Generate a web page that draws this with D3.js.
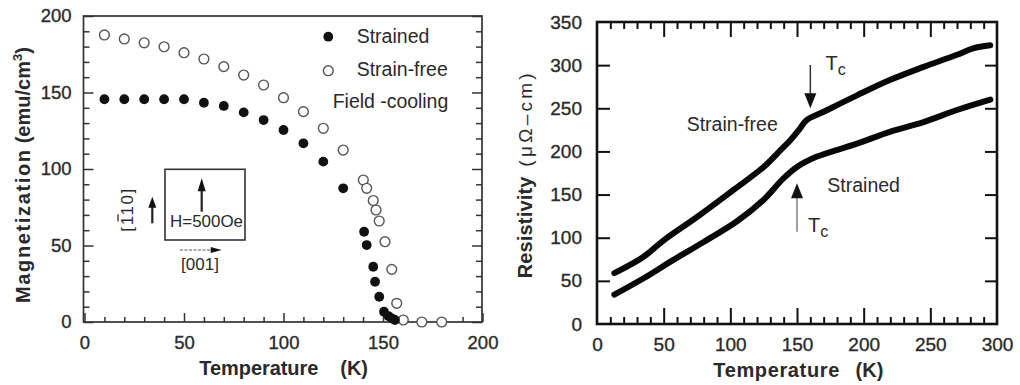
<!DOCTYPE html>
<html>
<head>
<meta charset="utf-8">
<script src="https://cdn.jsdelivr.net/npm/d3@7"></script>
<style>
  html, body { margin: 0; padding: 0; background: #fff; }
  svg { display: block; }
  text { font-family: "Liberation Sans", Arial, Helvetica, sans-serif; fill: #2a2a2a; }
  .tick text { font-family: "Liberation Sans", Arial, Helvetica, sans-serif; fill: #2a2a2a; stroke: #2a2a2a; stroke-width: 0.35px; }
</style>
</head>
<body>
<svg id="fig" width="1020" height="385"></svg>
<script>
// ---- Magnetization vs temperature (field-cooled, H = 500 Oe) ----
const strainedT = [10, 20, 30, 40, 50, 60, 70, 80, 90, 100, 110, 120, 130, 140.5, 141.8, 145.1, 146, 148.1, 150.5, 152.7, 154.4, 156];
const strainedM = [145.6, 145.6, 145.6, 145.6, 145.6, 143.3, 141.2, 137, 132, 125.5, 116.8, 104.8, 87.4, 59, 50.3, 36.1, 26.3, 16.5, 6.7, 3.9, 2.4, 1.3];
const freeT = [10, 20, 30, 40, 50, 60, 70, 80, 90, 100, 110, 120, 130, 140.1, 141.8, 145.1, 146.5, 148.1, 151, 154.4, 156.9, 160.2, 169.5, 179.5];
const freeM = [187.6, 185, 182.5, 179.9, 176, 171.9, 166.9, 161.4, 154.9, 146.6, 137.5, 126.6, 112.4, 92.8, 87.4, 79.4, 73.2, 66, 52.5, 34.4, 12.2, 1.3, 0, 0];
const magXTicks = [0, 50, 100, 150, 200];
const magYTicks = [0, 50, 100, 150, 200];

// ---- Resistivity vs temperature ----
const rhoFreeT = [13, 35, 50, 75, 102, 125, 138, 145, 152, 157, 170, 195, 220, 245, 270, 282, 295];
const rhoFreeR = [59, 78, 97, 124, 155, 182, 202, 213, 226, 236, 246, 265, 283, 298, 312, 319.5, 323];
const rhoStrT = [13, 35, 57, 80, 105, 125, 140, 150, 165, 195, 220, 245, 270, 295];
const rhoStrR = [34, 53, 74, 95, 119, 144, 169, 182, 194, 209, 223, 234, 248, 260];
const rhoXTicks = [0, 50, 100, 150, 200, 250, 300];
const rhoYTicks = [0, 50, 100, 150, 200, 250, 300, 350];
const tcFree = 160, tcStrained = 150;

const svg = d3.select("#fig");

// arrowhead helper: filled triangle with tip at (x, y), pointing in direction dir
function head(g, x, y, dir, len, wid, color) {
  let pts;
  if (dir === "up") pts = [[x, y], [x - wid / 2, y + len], [x + wid / 2, y + len]];
  else if (dir === "down") pts = [[x, y], [x - wid / 2, y - len], [x + wid / 2, y - len]];
  else pts = [[x, y], [x - len, y - wid / 2], [x - len, y + wid / 2]];
  g.append("path").attr("d", "M" + pts.map(p => p.join(",")).join("L") + "Z").attr("fill", color);
}

// ================= Left panel =================
{
  const x = d3.scaleLinear().domain([0, 200]).range([84.5, 482.5]);
  const y = d3.scaleLinear().domain([0, 200]).range([322, 16]);
  const g = svg.append("g");

  // minor ticks (every 10) on bottom, left and right; none on top
  const minorX = d3.range(10, 200, 10).filter(v => v % 50 !== 0);
  const minorY = d3.range(10, 200, 10).filter(v => v % 50 !== 0);
  g.append("g").attr("transform", `translate(0,${y(0)})`)
    .call(d3.axisBottom(x).tickValues(minorX).tickSize(-5).tickFormat(""));
  g.append("g").attr("transform", `translate(0,${y(0)})`)
    .call(d3.axisBottom(x).tickValues(magXTicks).tickSize(-9).tickPadding(14))
    .call(a => a.selectAll("text").style("font-size", "18.5px"));
  g.append("g").attr("transform", `translate(${x.range()[0] - 1},0)`)
    .call(d3.axisLeft(y).tickValues(minorY).tickSize(-6).tickFormat(""));
  g.append("g").attr("transform", `translate(${x.range()[0] - 1},0)`)
    .call(d3.axisLeft(y).tickValues(magYTicks).tickSize(-10).tickPadding(12))
    .call(a => a.selectAll("text").style("font-size", "18.5px"));
  g.append("g").attr("transform", `translate(${x.range()[1] - 0.5},0)`)
    .call(d3.axisRight(y).tickValues(minorY).tickSize(-6).tickFormat(""));
  g.append("g").attr("transform", `translate(${x.range()[1] - 0.5},0)`)
    .call(d3.axisRight(y).tickValues(magYTicks).tickSize(-10).tickFormat(""));
  g.selectAll(".domain").remove();
  g.selectAll(".tick line").attr("stroke", "#333").attr("stroke-width", 1.5);

  // frame
  g.append("rect").attr("x", x.range()[0] - 1).attr("y", y(200))
    .attr("width", x.range()[1] - x.range()[0] + 0.5).attr("height", y(0) - y(200))
    .attr("fill", "none").attr("stroke", "#333").attr("stroke-width", 1.7);

  // strain-free (open) points
  g.append("g").selectAll("circle").data(freeT.map((t, i) => [t, freeM[i]])).join("circle")
    .attr("cx", d => x(d[0])).attr("cy", d => y(d[1])).attr("r", 4.9)
    .attr("fill", "#fff").attr("stroke", "#555").attr("stroke-width", 1.4);
  // strained (filled) points
  g.append("g").selectAll("circle").data(strainedT.map((t, i) => [t, strainedM[i]])).join("circle")
    .attr("cx", d => x(d[0])).attr("cy", d => y(d[1])).attr("r", 4.9)
    .attr("fill", "#111");

  // legend
  g.append("circle").attr("cx", 328.3).attr("cy", 36.7).attr("r", 4.9).attr("fill", "#111");
  g.append("circle").attr("cx", 328.3).attr("cy", 70.7).attr("r", 4.9)
    .attr("fill", "#fff").attr("stroke", "#555").attr("stroke-width", 1.4);
  g.append("text").attr("x", 356.7).attr("y", 42.7).style("font-size", "19.5px").text("Strained");
  g.append("text").attr("x", 356.7).attr("y", 76.3).style("font-size", "19.5px").text("Strain-free");
  g.append("text").attr("x", 332.7).attr("y", 108.3).style("font-size", "19.5px")
    .attr("textLength", 115.6).text("Field -cooling");

  // inset: field direction relative to crystal axes
  const ins = g.append("g");
  ins.append("rect").attr("x", 165).attr("y", 169.3).attr("width", 80).attr("height", 70.7)
    .attr("fill", "none").attr("stroke", "#333").attr("stroke-width", 1.6);
  ins.append("line").attr("x1", 201.7).attr("y1", 211.7).attr("x2", 201.7).attr("y2", 188)
    .attr("stroke", "#222").attr("stroke-width", 2.2);
  head(ins, 201.7, 178.3, "up", 13, 8, "#111");
  ins.append("text").attr("x", 170).attr("y", 226.7).style("font-size", "16px")
    .attr("textLength", 73).attr("lengthAdjust", "spacingAndGlyphs").text("H=500Oe");
  ins.append("line").attr("x1", 152.3).attr("y1", 223.3).attr("x2", 152.3).attr("y2", 204)
    .attr("stroke", "#222").attr("stroke-width", 2.2);
  head(ins, 152.3, 196.7, "up", 11, 8, "#111");
  const rot = ins.append("g").attr("transform", "translate(133,231.7) rotate(-90)");
  rot.append("text").attr("x", 0).attr("y", 0).style("font-size", "17px")
    .attr("textLength", 43).text("[110]");
  rot.append("line").attr("x1", 10.5).attr("x2", 17.5).attr("y1", -15).attr("y2", -15)
    .attr("stroke", "#2a2a2a").attr("stroke-width", 1.3);
  ins.append("line").attr("x1", 180).attr("y1", 250).attr("x2", 212).attr("y2", 250)
    .attr("stroke", "#555").attr("stroke-width", 1.2).attr("stroke-dasharray", "3,1.5");
  head(ins, 221.7, 250, "right", 11, 6, "#111");
  ins.append("text").attr("x", 200).attr("y", 270).attr("text-anchor", "middle")
    .style("font-size", "17px").text("[001]");

  // axis titles
  g.append("text").attr("transform", "translate(30,303) rotate(-90)")
    .style("font-size", "20px").style("font-weight", "bold")
    .attr("textLength", 153).text("Magnetization");
  const yt = g.append("text").attr("transform", "translate(30,143.3) rotate(-90)")
    .style("font-size", "20px").style("font-weight", "bold");
  yt.append("tspan").text("(emu/cm");
  yt.append("tspan").attr("dy", -8).style("font-size", "13px").text("3");
  yt.append("tspan").attr("dy", 8).text(")");
  g.append("text").attr("x", 199.3).attr("y", 375).style("font-size", "20px")
    .style("font-weight", "bold").attr("textLength", 119).text("Temperature");
  g.append("text").attr("x", 368).attr("y", 375).attr("text-anchor", "end")
    .style("font-size", "20px").style("font-weight", "bold").text("(K)");
}

// ================= Right panel =================
{
  const x = d3.scaleLinear().domain([0, 300]).range([597, 997]);
  const y = d3.scaleLinear().domain([0, 350]).range([324, 22]);
  const g = svg.append("g");

  const minor = d3.range(10, 300, 10).filter(v => v % 50 !== 0);
  const majorInner = [50, 100, 150, 200, 250];
  // bottom
  g.append("g").attr("transform", `translate(0,${y(0)})`)
    .call(d3.axisBottom(x).tickValues(minor).tickSize(-7).tickFormat(""));
  g.append("g").attr("transform", `translate(0,${y(0)})`)
    .call(d3.axisBottom(x).tickValues(majorInner).tickSize(-16).tickFormat(""));
  g.append("g").attr("transform", `translate(0,${y(0)})`)
    .call(d3.axisBottom(x).tickValues(rhoXTicks).tickSize(0).tickPadding(14))
    .call(a => a.selectAll("text").style("font-size", "19px"));
  // top
  g.append("g").attr("transform", `translate(0,${y(350)})`)
    .call(d3.axisTop(x).tickValues(minor).tickSize(-7).tickFormat(""));
  g.append("g").attr("transform", `translate(0,${y(350)})`)
    .call(d3.axisTop(x).tickValues(majorInner).tickSize(-15).tickFormat(""));
  // left
  g.append("g").attr("transform", `translate(${x(0)},0)`)
    .call(d3.axisLeft(y).tickValues(rhoYTicks.filter(v => v > 0 && v < 350)).tickSize(-13).tickFormat(""));
  g.append("g").attr("transform", `translate(${x(0)},0)`)
    .call(d3.axisLeft(y).tickValues(rhoYTicks).tickSize(0).tickPadding(15))
    .call(a => a.selectAll("text").style("font-size", "19px"));
  // right
  g.append("g").attr("transform", `translate(${x(300)},0)`)
    .call(d3.axisRight(y).tickValues(rhoYTicks.filter(v => v > 0 && v < 350)).tickSize(-12).tickFormat(""));
  g.selectAll(".domain").remove();
  g.selectAll(".tick line").attr("stroke", "#111").attr("stroke-width", 2);

  g.append("rect").attr("x", x(0)).attr("y", y(350))
    .attr("width", x(300) - x(0)).attr("height", y(0) - y(350))
    .attr("fill", "none").attr("stroke", "#111").attr("stroke-width", 2.6);

  const line = d3.line().x(d => x(d[0])).y(d => y(d[1])).curve(d3.curveCatmullRom.alpha(0.5));
  g.append("path").datum(rhoFreeT.map((t, i) => [t, rhoFreeR[i]])).attr("d", line)
    .attr("fill", "none").attr("stroke", "#080808").attr("stroke-width", 6).attr("stroke-linecap", "round");
  g.append("path").datum(rhoStrT.map((t, i) => [t, rhoStrR[i]])).attr("d", line)
    .attr("fill", "none").attr("stroke", "#080808").attr("stroke-width", 6).attr("stroke-linecap", "round");

  // Tc markers
  const xf = x(tcFree), xs = x(tcStrained);
  g.append("line").attr("x1", xf).attr("x2", xf).attr("y1", 65).attr("y2", 96)
    .attr("stroke", "#333").attr("stroke-width", 1.5);
  head(g, xf, 108.3, "down", 15, 12, "#111");
  const tc1 = g.append("text").attr("x", 825.5).attr("y", 70).style("font-size", "20px");
  tc1.append("tspan").text("T");
  tc1.append("tspan").attr("dy", 5).style("font-size", "16px").text("c");

  g.append("line").attr("x1", xs).attr("x2", xs).attr("y1", 231.7).attr("y2", 196)
    .attr("stroke", "#777").attr("stroke-width", 1.4);
  head(g, xs, 183.3, "up", 15, 12, "#111");
  const tc2 = g.append("text").attr("x", 808).attr("y", 231.7).style("font-size", "20px");
  tc2.append("tspan").text("T");
  tc2.append("tspan").attr("dy", 5).style("font-size", "16px").text("c");

  g.append("text").attr("x", 686.7).attr("y", 131).style("font-size", "19.5px").text("Strain-free");
  g.append("text").attr("x", 827.3).attr("y", 192.3).style("font-size", "19.5px").text("Strained");

  // axis titles
  g.append("text").attr("transform", "translate(532,278.3) rotate(-90)")
    .style("font-size", "20px").style("font-weight", "bold")
    .attr("textLength", 101.7).text("Resistivity");
  g.append("text").attr("transform", "translate(532,166.7) rotate(-90)")
    .style("font-size", "19px")
    .attr("textLength", 93.4).text("(μΩ–cm)");
  g.append("text").attr("x", 713.3).attr("y", 376.7).style("font-size", "20px")
    .style("font-weight", "bold").attr("textLength", 126).text("Temperature");
  g.append("text").attr("x", 883.3).attr("y", 376.7).attr("text-anchor", "end")
    .style("font-size", "20px").style("font-weight", "bold").text("(K)");
}
</script>
</body>
</html>
